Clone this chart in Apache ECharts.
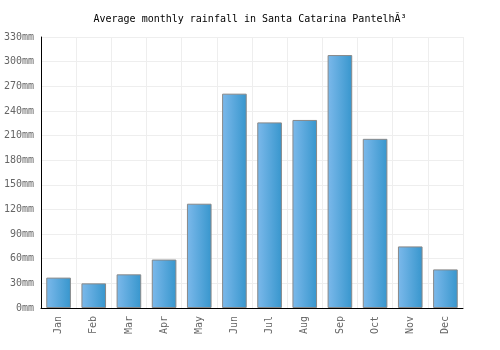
<!DOCTYPE html>
<html lang="en">
<head>
	<meta charset="utf-8">
	<script src="https://cdn.jsdelivr.net/npm/echarts@6/dist/echarts.min.js"></script>
	<style>
		html, body { margin: 0; padding: 0; background: #fff; }
		#chart { width: 500px; height: 350px; }
	</style>
</head>
<body>
<div id="chart"></div>

<script type="text/javascript">
    var months = ['Jan', 'Feb', 'Mar', 'Apr', 'May', 'Jun', 'Jul', 'Aug', 'Sep', 'Oct', 'Nov', 'Dec'];
    var rainfall = [37, 30, 41, 59, 127, 261, 226, 229, 308, 206, 75, 47];
    var titleText = 'Average monthly rainfall in Santa Catarina Pantelh\u00c3\u00b3';

    var font = '"DejaVu Sans Mono", monospace';
    var myChart = echarts.init(document.getElementById('chart'));

    var option = {
        animation: false,
        title: {
            text: titleText,
            left: 'center',
            top: 9,
            textStyle: { fontFamily: font, fontSize: 10, fontWeight: 'normal', color: '#000' }
        },
        grid: { left: 41, right: 37, top: 37, bottom: 42 },
        xAxis: {
            type: 'category',
            data: months,
            axisLine: { lineStyle: { color: '#000', width: 1 } },
            axisTick: { show: false },
            splitLine: { show: true, interval: 0, lineStyle: { color: '#eee' } },
            axisLabel: { rotate: 90, interval: 0, fontFamily: font, fontSize: 10, color: '#666', margin: 8 }
        },
        yAxis: {
            type: 'value',
            min: 0,
            max: 330,
            interval: 30,
            axisLine: { show: true, lineStyle: { color: '#000', width: 1 } },
            axisTick: { show: false },
            splitLine: { lineStyle: { color: '#eee' } },
            axisLabel: { formatter: '{value}mm', fontFamily: font, fontSize: 10, color: '#666', margin: 7 }
        },
        series: [{
            type: 'bar',
            data: rainfall,
            barCategoryGap: '30%',
            itemStyle: {
                borderColor: '#888',
                borderWidth: 1,
                color: new echarts.graphic.LinearGradient(0, 0, 1, 0, [
                    { offset: 0, color: '#7cb9eb' },
                    { offset: 1, color: '#3796cd' }
                ])
            }
        }]
    };

    myChart.setOption(option);
</script>
</body>
</html>
